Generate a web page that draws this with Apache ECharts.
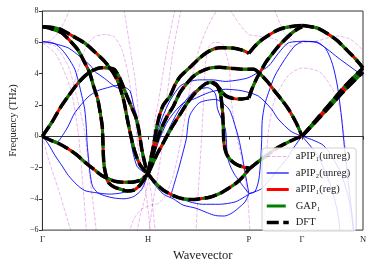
<!DOCTYPE html>
<html><head><meta charset="utf-8">
<script src="https://cdn.jsdelivr.net/npm/echarts@6/dist/echarts.min.js"></script>
<style>html,body{margin:0;padding:0;background:#fff}#c{width:374px;height:267px}</style>
</head><body><div id="c"></div>
<script>
// k-path positions of high-symmetry points and their labels
const kTicks = [0, 1.075, 2.1, 2.64, 3.26];
const kLabels = ['Γ', 'H', 'P', 'Γ', 'N'];
const yMin = -6, yMax = 8, yStep = 2;

// DFT bands (also drawn as aPIP1(reg) and GAP1, which coincide)
const dftGH_A = [[0,7.0],[0.08,6.97],[0.18,6.84],[0.28,6.5],[0.43,5.95],[0.53,5.4],[0.63,4.8],[0.68,4.4],[0.73,3.95],[0.78,3.3],[0.83,2.2],[0.86,1.2],[0.9,0],[0.94,-1.0],[0.99,-1.8],[1.04,-2.2],[1.075,-2.4]];
const dftGH_B = [[0,7.0],[0.1,6.85],[0.197,6.6],[0.28,6.1],[0.363,5.5],[0.43,4.7],[0.48,4.06],[0.52,3.2],[0.563,2.35],[0.59,1.4],[0.608,0.65],[0.615,-0.3],[0.62,-1.25],[0.63,-2.0],[0.647,-2.5],[0.67,-2.95],[0.73,-3.25],[0.8,-3.4],[0.86,-3.5],[0.93,-3.45],[0.99,-3.15],[1.03,-2.8],[1.075,-2.4]];
const dftGH_C = [[0,0],[0.097,0.9],[0.18,1.8],[0.263,2.56],[0.35,3.3],[0.43,3.84],[0.51,4.2],[0.597,4.38],[0.68,4.36],[0.73,4.27],[0.78,3.8],[0.82,3.2],[0.86,2.55],[0.91,1.8],[0.95,1.2],[0.98,0.4],[1.01,-0.8],[1.04,-1.7],[1.075,-2.4]];
const dftGH_D = [[0,0],[0.08,-0.25],[0.16,-0.45],[0.26,-0.8],[0.35,-1.2],[0.43,-1.65],[0.53,-2.15],[0.6,-2.5],[0.68,-2.75],[0.75,-2.9],[0.83,-2.95],[0.93,-2.92],[1.0,-2.8],[1.04,-2.6],[1.075,-2.4]];
const dftHP_E = [[1.075,-2.4],[1.13,-2.85],[1.2,-3.3],[1.26,-3.57],[1.35,-3.85],[1.43,-4.0],[1.53,-4.05],[1.6,-4.0],[1.7,-3.9],[1.8,-3.67],[1.9,-3.3],[1.97,-3.0],[2.03,-2.65],[2.1,-2.1]];
const dftHP_F = [[1.075,-2.4],[1.1,-1.5],[1.13,-0.6],[1.16,0.5],[1.19,1.3],[1.23,2.0],[1.297,2.56],[1.35,3.3],[1.4,3.8],[1.5,4.4],[1.6,5.0],[1.7,5.45],[1.8,5.65],[1.93,5.63],[2.03,5.5],[2.1,5.3]];
const dftHP_G = [[1.075,-2.4],[1.11,-1.5],[1.16,-0.4],[1.21,0.5],[1.263,1.2],[1.33,1.9],[1.4,2.8],[1.46,3.3],[1.53,3.8],[1.6,4.1],[1.7,4.35],[1.8,4.4],[1.93,4.33],[2.03,4.28],[2.1,4.27]];
const dftHP_I = [[1.075,-2.4],[1.11,-1.9],[1.17,-1.1],[1.24,-0.3],[1.31,0.5],[1.4,1.4],[1.47,2.1],[1.53,2.6],[1.6,3.05],[1.66,3.35],[1.72,3.45],[1.77,3.3],[1.81,2.7],[1.83,1.7],[1.84,0.5],[1.845,-0.4],[1.87,-1.1],[1.91,-1.5],[1.97,-1.8],[2.03,-1.95],[2.1,-2.05]];
const dftHP_J = [[1.72,3.45],[1.78,3.2],[1.86,2.6],[1.95,2.4],[2.03,2.38],[2.1,2.45]];
const dftPG_E = [[2.1,-2.1],[2.16,-1.8],[2.23,-1.45],[2.3,-1.15],[2.36,-0.85],[2.43,-0.6],[2.5,-0.38],[2.57,-0.17],[2.64,0]];
const dftPG_F = [[2.1,5.3],[2.16,5.75],[2.23,6.15],[2.3,6.45],[2.38,6.75],[2.46,6.93],[2.55,7.03],[2.64,7.07]];
const dftPG_G = [[2.1,4.27],[2.15,4.27],[2.2,4.06],[2.25,3.75],[2.3,3.4],[2.36,2.9],[2.43,2.35],[2.5,1.75],[2.56,1.1],[2.6,0.6],[2.64,0]];
const dftPG_J = [[2.1,2.45],[2.13,3.0],[2.18,3.7],[2.23,4.27],[2.28,4.8],[2.33,5.2],[2.4,5.75],[2.5,6.38],[2.57,6.75],[2.64,7.0]];
const dftGN_K = [[2.64,7.07],[2.73,7.0],[2.8,6.9],[2.9,6.55],[3.0,6.1],[3.08,5.6],[3.16,5.1],[3.21,4.75],[3.26,4.36]];
const dftGN_L1 = [[2.64,0],[2.78,1.02],[2.93,2.12],[3.08,3.22],[3.26,4.36]];
const dftGN_L2 = [[2.64,0],[2.78,0.93],[2.93,1.95],[3.08,2.98],[3.26,4.1]];

// aPIP2 (unreg) bands
const ap2_1 = [[0,6.05],[0.08,6.0],[0.13,5.9],[0.197,5.54],[0.263,5.0],[0.33,4.27],[0.37,3.4],[0.4,2.6],[0.43,1.73],[0.447,0.5],[0.455,-0.5],[0.47,-1.5],[0.485,-2.4],[0.51,-3.2],[0.56,-3.6],[0.63,-3.8],[0.73,-3.95],[0.83,-4.0],[0.93,-3.85],[1.01,-3.4],[1.075,-2.4]];
const ap2_2 = [[0,6.05],[0.13,5.9],[0.263,5.64],[0.38,5.1],[0.497,4.45],[0.53,4.15],[0.63,3.7],[0.73,3.2],[0.8,2.95],[0.84,2.2],[0.87,1.0],[0.9,-0.4],[0.96,-1.9],[1.03,-2.3],[1.075,-2.4]];
const ap2_3 = [[0,0],[0.08,-0.25],[0.15,-0.35],[0.21,0.1],[0.263,0.65],[0.33,1.5],[0.463,2.5],[0.56,2.9],[0.663,3.1],[0.763,3.25],[0.83,3.15],[0.89,2.9],[0.93,1.9],[0.963,1.2],[0.99,0],[1.02,-1.2],[1.05,-2.0],[1.075,-2.4]];
const ap2_4 = [[0,0],[0.06,-0.5],[0.13,-1.25],[0.2,-1.9],[0.263,-2.5],[0.35,-3.1],[0.43,-3.47],[0.53,-3.6],[0.68,-3.7],[0.78,-3.65],[0.9,-3.47],[0.98,-3.2],[1.03,-2.9],[1.075,-2.4]];
const ap2_5 = [[1.075,-2.4],[1.12,-1.2],[1.17,0.2],[1.22,1.2],[1.3,2.3],[1.4,3.2],[1.5,3.5],[1.6,3.6],[1.73,3.6],[1.86,3.5],[2.0,3.6],[2.1,3.75],[2.2,4.1],[2.3,4.48],[2.4,5.3],[2.5,5.96],[2.64,6.06]];
const ap2_6 = [[1.075,-2.4],[1.13,-1.3],[1.19,-0.2],[1.26,0.8],[1.35,1.6],[1.43,2.1],[1.53,2.35],[1.697,2.8],[1.86,3.0],[2.03,2.9],[2.197,2.56],[2.33,1.73],[2.397,1.1],[2.53,0.3],[2.64,0]];
const ap2_7 = [[1.3,-3.9],[1.38,-2.2],[1.41,-1.5],[1.463,-0.17],[1.497,1.3],[1.597,2.14],[1.76,2.35],[1.897,1.73],[1.96,0.65],[1.997,-0.17],[2.03,-1.2],[2.06,-2.3],[2.1,-3.67]];
const ap2_8 = [[1.075,-2.4],[1.13,-3.0],[1.23,-3.7],[1.33,-4.0],[1.43,-4.4],[1.56,-4.6],[1.68,-4.9],[1.76,-5.07],[1.85,-5.1],[1.93,-4.9],[2.01,-4.5],[2.06,-4.2],[2.1,-3.7]];
const ap2_9 = [[1.075,-2.4],[1.18,-3.1],[1.26,-3.5],[1.38,-3.9],[1.5,-4.2],[1.63,-4.35],[1.8,-4.35],[1.96,-4.2],[2.05,-3.9],[2.1,-3.7]];
const ap2_10 = [[2.1,-3.67],[2.23,-3.35],[2.36,-2.4],[2.497,-1.33],[2.57,-0.6],[2.64,0]];
const ap2_11 = [[2.1,-3.67],[2.16,-3.55],[2.2,-2.8],[2.22,-1.5],[2.23,-0.2],[2.235,1.0],[2.26,2.0],[2.3,2.8],[2.363,3.85],[2.463,4.9],[2.563,5.75],[2.64,6.06]];
const ap2_12 = [[2.64,6.06],[2.78,6.04],[2.88,5.6],[2.95,4.6],[3.0,3.2],[3.04,1.3],[3.08,-1.25],[3.13,-4.0],[3.17,-6.2]];
const ap2_13 = [[2.64,6.06],[2.8,5.96],[3.03,4.9],[3.26,3.85]];
const ap2_14 = [[2.64,0],[2.8,-1.25],[2.93,-3.15],[3.0,-4.8],[3.03,-6.2]];
const ap2_15 = [[2.64,0],[2.86,-0.6],[3.03,-2.3],[3.13,-4.4],[3.163,-6.2]];
const ap2_16 = [[1.075,-2.4],[1.15,-1.5],[1.25,0],[1.4,1.8],[1.55,2.9],[1.68,3.1],[1.76,2.7],[1.78,1.75],[1.86,0.46],[1.88,-1.25],[1.91,-1.9],[1.96,-2.5],[2.1,-3.67]];

// aPIP1 (unreg) bands
const ap1_1 = [[0,5.96],[0.13,5.75],[0.263,4.48],[0.35,2.5],[0.43,0.25],[0.47,-2.0],[0.51,-4.0],[0.55,-6.2]];
const ap1_2 = [[0,5.96],[0.13,5.3],[0.213,4.27],[0.297,2.8],[0.363,0.25],[0.39,-1.5],[0.42,-3.8],[0.45,-6.2]];
const ap1_3 = [[0,0],[0.063,-1.5],[0.163,-3.4],[0.263,-5.5],[0.3,-6.2]];
const ap1_4 = [[0,5.96],[0.1,6.2],[0.197,7.0],[0.28,8.1]];
const ap1_5 = [[0.297,2.8],[0.397,4.9],[0.45,5.8],[0.53,6.35],[0.63,6.5],[0.73,6.35],[0.81,5.5],[0.87,4.0],[0.91,2.4],[0.94,1.2],[0.97,-0.5],[1.01,-2.0],[1.05,-3.5],[1.08,-5.0],[1.1,-6.2]];
const ap1_6 = [[0.83,8.1],[0.87,6.5],[0.9,5.3],[0.947,3.4],[0.98,1.2],[1.01,-0.5],[1.04,-1.8],[1.08,-2.7],[1.11,-3.8],[1.13,-5.0],[1.15,-6.2]];
const ap1_7 = [[1.347,8.1],[1.28,6.0],[1.23,4.2],[1.18,2.2],[1.147,1.2],[1.12,-0.3],[1.1,-1.5],[1.08,-2.7],[1.04,-4.0],[0.997,-5.0],[0.96,-6.2]];
const ap1_8 = [[1.41,8.1],[1.33,5.5],[1.263,2.35],[1.23,-0.2],[1.2,-1.5],[1.16,-3.0],[1.12,-4.4],[1.08,-6.2]];
const ap1_9 = [[0.88,-6.2],[0.93,-5.3],[1.0,-4.7],[1.1,-4.4],[1.18,-4.3],[1.26,-3.7],[1.33,-2.5],[1.38,-1.2],[1.43,0.46],[1.47,2.0],[1.53,4.0],[1.59,5.5],[1.66,6.7],[1.73,7.6],[1.78,8.1]];
const ap1_10 = [[1.56,-6.2],[1.59,-3],[1.62,0],[1.647,3.4],[1.663,4.9],[1.697,5.75],[1.73,5.96],[1.76,6.0],[1.83,5.9],[1.88,5.0],[1.9,4.48],[1.92,2.35],[1.95,1.0],[1.99,-0.4],[2.03,-1.5],[2.06,-2.5],[2.097,-4.6],[2.11,-6.2]];
const ap1_11 = [[1.9,8.1],[1.93,7.85],[2.0,7.2],[2.097,6.5],[2.197,6.4],[2.363,6.2],[2.53,5.75],[2.64,5.96],[2.8,6.1],[3.0,6.4],[3.13,6.2],[3.26,5.5]];
const ap1_12 = [[2.36,8.1],[2.46,6.6],[2.55,6.1],[2.64,5.96]];
const ap1_13 = [[2.25,-6.2],[2.27,-3],[2.297,0.25],[2.363,2.35],[2.497,3.85],[2.64,4.36],[2.83,4.06],[3.0,2.35],[3.063,0.25],[3.11,-3],[3.13,-6.2]];

const dftBands = [dftGH_A,dftGH_B,dftGH_C,dftGH_D,dftHP_E,dftHP_F,dftHP_G,dftHP_I,dftHP_J,dftPG_E,dftPG_F,dftPG_G,dftPG_J,dftGN_K,dftGN_L1,dftGN_L2];
const ap2Bands = [ap2_1,ap2_2,ap2_3,ap2_4,ap2_5,ap2_6,ap2_7,ap2_8,ap2_9,ap2_10,ap2_11,ap2_12,ap2_13,ap2_14,ap2_15,ap2_16];
const ap1Bands = [ap1_1,ap1_2,ap1_3,ap1_4,ap1_5,ap1_6,ap1_7,ap1_8,ap1_9,ap1_10,ap1_11,ap1_12,ap1_13];

const names = ['aPIP₁(unreg)','aPIP₂(unreg)','aPIP₁(reg)','GAP₁','DFT'];
const styles = {
  'aPIP₁(unreg)': {color:'rgba(191,0,191,0.32)', width:0.9, type:[3.7,1.6]},
  'aPIP₂(unreg)': {color:'#0000ff', width:0.9, type:'solid'},
  'aPIP₁(reg)': {color:'#ff0000', width:3, type:'solid'},
  'GAP₁': {color:'#008000', width:3, type:[19,5,3,5]},
  'DFT': {color:'#000000', width:3.5, type:[12,4.5]}
};
const series = [];
function add(name, d){
  const s = styles[name];
  series.push({name, type:'line', data:d, symbol:'none', smooth:0.25, silent:true, animation:false,
    clip:true, lineStyle:{color:s.color, width:s.width, type:s.type}, itemStyle:{color:s.color}});
}
ap1Bands.forEach(d=>add(names[0], d));
ap2Bands.forEach(d=>add(names[1], d));
dftBands.forEach(d=>add(names[2], d));
dftBands.forEach(d=>add(names[3], d));
dftBands.forEach(d=>add(names[4], d));

const legendData = names.map(n => ({name:n, itemStyle:{opacity:0},
  lineStyle:{color:styles[n].color, width:styles[n].width === 0.9 ? 1.2 : styles[n].width, type:styles[n].type}}));

const serif = 'Liberation Serif, DejaVu Serif, serif';
const chart = echarts.init(document.getElementById('c'), null, {renderer:'canvas'});
chart.setOption({
  animation:false,
  grid:{left:37, right:11, top:11, bottom:35, show:true, borderColor:'#333', borderWidth:1, backgroundColor:'transparent'},
  xAxis:{type:'value', min:kTicks[0], max:kTicks[kTicks.length-1],
    name:'Wavevector', nameLocation:'middle', nameGap:17,
    nameTextStyle:{fontFamily:serif, fontSize:12.5, color:'#222'},
    axisLine:{show:true, lineStyle:{color:'#333', width:1}},
    axisTick:{show:true, length:3.5, inside:false, customValues:kTicks, lineStyle:{color:'#333'}},
    axisLabel:{show:true, customValues:kTicks, margin:5, fontFamily:serif, fontSize:8.5, color:'#222',
      formatter:(v)=>{let best=0;kTicks.forEach((t,i)=>{if(Math.abs(t-v)<Math.abs(kTicks[best]-v))best=i;});return kLabels[best];}},
    splitLine:{show:false}},
  yAxis:{type:'value', min:yMin, max:yMax, interval:yStep,
    name:'Frequency (THz)', nameLocation:'middle', nameGap:22, nameRotate:90,
    nameTextStyle:{fontFamily:serif, fontSize:10.5, color:'#222'},
    axisLine:{show:true, lineStyle:{color:'#333', width:1}},
    axisTick:{show:true, length:3.5, lineStyle:{color:'#333'}},
    axisLabel:{margin:4, fontFamily:serif, fontSize:8, color:'#222', formatter:(v)=>String(v).replace('-','−')},
    splitLine:{show:false}},
  legend:{data:legendData, orient:'vertical', left:262, top:148, itemWidth:22, itemHeight:10, itemGap:5.5,
    itemStyle:{opacity:0},
    padding:[3,6,3,3], backgroundColor:'rgba(255,255,255,0.85)', borderColor:'#d0d0d0', borderWidth:1, borderRadius:3,
    textStyle:{fontFamily:serif, fontSize:10.5, color:'#222', padding:[0,0,0,2]}, selectedMode:false},
  series
});
</script></body></html>
